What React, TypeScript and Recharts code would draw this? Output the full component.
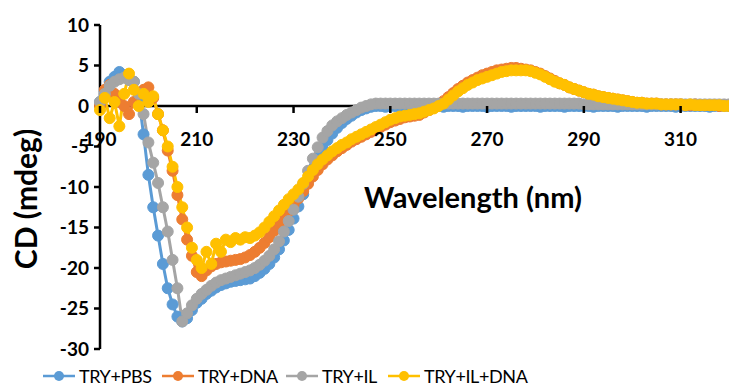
import React from "react";
import { LineChart, Line, XAxis, YAxis, ReferenceLine } from "recharts";

// wavelength in nm, one reading per nm
const wavelengths: number[] = [];
for (let w = 190; w <= 320; w++) wavelengths.push(w);

// CD (mdeg)
const tryPbs = [
  0.5, 1.8, 3.0, 3.6, 4.2, 3.8, 3.4, 3.0, 1.0, -3.5,
  -8.5, -12.5, -16.0, -19.5, -22.5, -24.5, -26.0, -26.6, -26.2, -25.2,
  -24.3, -23.8, -23.2, -22.8, -22.4, -22.1, -21.9, -21.7, -21.6, -21.5,
  -21.4, -21.3, -21.0, -20.6, -20.1, -19.5, -18.7, -17.7, -16.6, -15.3,
  -13.9, -12.4, -10.9, -9.3, -7.8, -6.4, -5.2, -4.2, -3.4, -2.7,
  -2.1, -1.6, -1.2, -0.8, -0.5, -0.3, -0.1, 0.0, 0.0, -0.1,
  0.0, 0.0, -0.1, 0.0, 0.0, 0.0, -0.1, 0.0, 0.0, 0.0,
  0.0, -0.1, 0.0, 0.0, 0.0, -0.1, 0.0, 0.0, 0.0, 0.0,
  -0.1, 0.0, 0.0, 0.0, 0.0, -0.1, 0.0, 0.0, 0.0, 0.0,
  0.0, -0.1, 0.0, 0.0, 0.0, 0.0, -0.1, 0.0, 0.0, 0.0,
  0.0, 0.0, -0.1, 0.0, 0.0, 0.0, 0.0, -0.1, 0.0, 0.0,
  0.0, 0.0, 0.0, -0.1, 0.0, 0.0, 0.0, 0.0, 0.0, -0.1,
  0.0, 0.0, 0.0, 0.0, 0.0, 0.0, -0.1, 0.0, 0.0, 0.0,
  0.0,
];

const tryDna = [
  0.0, 2.0, 2.6, 1.5, 0.5, 0.0, -1.0, 0.5, 1.5, 2.0,
  2.3, 1.0, -1.0, -3.0, -5.5, -8.0, -11.0, -14.0, -16.5, -18.5,
  -20.5, -21.0, -20.3, -19.8, -19.5, -19.3, -19.2, -19.1, -19.0, -18.9,
  -18.7, -18.4, -18.0, -17.5, -16.9, -16.2, -15.4, -14.6, -13.8, -13.0,
  -12.2, -11.4, -10.5, -9.6, -8.7, -7.9, -7.2, -6.6, -6.1, -5.6,
  -5.2, -4.8, -4.4, -4.1, -3.8, -3.5, -3.2, -2.9, -2.6, -2.3,
  -2.0, -1.8, -1.6, -1.4, -1.3, -1.2, -1.1, -0.8, -0.5, -0.2,
  0.2, 0.6, 1.1, 1.6, 2.1, 2.5, 2.9, 3.2, 3.5, 3.8,
  4.0, 4.2, 4.4, 4.5, 4.6, 4.7, 4.7, 4.6, 4.5, 4.4,
  4.2, 4.0, 3.7, 3.4, 3.1, 2.8, 2.6, 2.3, 2.1, 1.9,
  1.7, 1.5, 1.4, 1.2, 1.1, 1.0, 0.9, 0.8, 0.7, 0.6,
  0.5, 0.4, 0.4, 0.3, 0.3, 0.3, 0.2, 0.2, 0.2, 0.2,
  0.2, 0.1, 0.1, 0.2, 0.1, 0.1, 0.1, 0.1, 0.0, 0.1,
  0.1,
];

const tryIl = [
  0.5, 1.5, 2.5, 3.0, 3.3, 3.5, 3.2, 3.0, 1.5, -1.0,
  -4.5, -7.0, -9.5, -12.5, -15.5, -19.0, -22.5, -26.6, -25.6, -24.6,
  -23.8, -23.2, -22.7, -22.2, -21.8, -21.5, -21.3, -21.1, -20.9, -20.7,
  -20.5, -20.3, -20.0, -19.6, -19.1, -18.5, -17.7, -16.7, -15.5, -14.2,
  -12.8, -11.2, -9.6, -8.0, -6.5, -5.1, -3.9, -3.1, -2.4, -1.9,
  -1.5, -1.1, -0.8, -0.5, -0.2, 0.0, 0.2, 0.3, 0.3, 0.3,
  0.3, 0.3, 0.3, 0.3, 0.3, 0.3, 0.3, 0.3, 0.3, 0.3,
  0.3, 0.3, 0.3, 0.3, 0.3, 0.3, 0.3, 0.3, 0.3, 0.3,
  0.3, 0.3, 0.3, 0.3, 0.3, 0.3, 0.3, 0.3, 0.3, 0.3,
  0.3, 0.3, 0.3, 0.3, 0.3, 0.3, 0.3, 0.3, 0.3, 0.3,
  0.2, 0.2, 0.2, 0.2, 0.2, 0.2, 0.2, 0.2, 0.2, 0.2,
  0.2, 0.2, 0.2, 0.2, 0.2, 0.2, 0.2, 0.2, 0.2, 0.2,
  0.2, 0.2, 0.2, 0.2, 0.2, 0.2, 0.2, 0.2, 0.2, 0.2,
  0.2,
];

const tryIlDna = [
  -0.5, 1.0, -1.5, 0.5, -2.5, 1.5, 4.0, 2.0, 0.0, 1.5,
  0.5, 1.2, -1.0, -3.0, -5.0, -7.5, -10.0, -12.5, -15.0, -17.5,
  -19.0, -20.0, -18.0, -19.5, -17.0, -18.0, -16.5, -16.8, -16.3, -16.5,
  -16.2, -16.3, -16.0, -15.6, -15.0, -14.3, -13.6, -12.9, -12.2, -11.5,
  -10.9, -10.3, -9.5, -8.7, -7.9, -7.2, -6.6, -6.1, -5.6, -5.2,
  -4.8, -4.5, -4.1, -3.8, -3.5, -3.2, -2.9, -2.6, -2.3, -2.0,
  -1.7, -1.5, -1.3, -1.2, -1.1, -1.0, -0.9, -0.7, -0.5, -0.3,
  0.0, 0.3, 0.8, 1.3, 1.8, 2.2, 2.6, 2.9, 3.2, 3.4,
  3.6, 3.8, 4.0, 4.2, 4.3, 4.4, 4.4, 4.4, 4.4, 4.3,
  4.1, 3.9, 3.6, 3.3, 3.0, 2.8, 2.6, 2.3, 2.1, 1.9,
  1.7, 1.5, 1.4, 1.2, 1.1, 1.0, 0.9, 0.8, 0.7, 0.6,
  0.5, 0.4, 0.4, 0.3, 0.3, 0.3, 0.2, 0.2, 0.2, 0.2,
  0.2, 0.1, 0.2, 0.1, 0.1, 0.1, 0.1, 0.1, 0.1, 0.0,
  0.0,
];

const xTicks = [190, 210, 230, 250, 270, 290, 310];
const yTicks = [-30, -25, -20, -15, -10, -5, 0, 5, 10];

const series = [
  { key: "pbs", name: "TRY+PBS", color: "#5B9BD5", left: 43 },
  { key: "dna", name: "TRY+DNA", color: "#ED7D31", left: 162 },
  { key: "il", name: "TRY+IL", color: "#A5A5A5", left: 286 },
  { key: "ilDna", name: "TRY+IL+DNA", color: "#FFC000", left: 388 },
];

const data = wavelengths.map((wl, i) => ({
  wl,
  pbs: tryPbs[i],
  dna: tryDna[i],
  il: tryIl[i],
  ilDna: tryIlDna[i],
}));

const FONT = "Lato, 'Open Sans', sans-serif";
const CHART_W = 729;
const CHART_H = 388;
const MARGIN = { top: 25, right: 0, bottom: 0, left: 0 };
const X_AXIS_H = 39;
const Y_MIN = -30;
const Y_MAX = 10;
const PLOT_H = CHART_H - MARGIN.top - MARGIN.bottom - X_AXIS_H;
// distance from plot bottom up to the y = 0 line, where the x axis sits
const ZERO_UP = (PLOT_H * (0 - Y_MIN)) / (Y_MAX - Y_MIN);

const XTick = (props: any) => {
  const { x, y, payload } = props;
  const y0 = y - ZERO_UP;
  return (
    <g>
      <line x1={x} x2={x} y1={y0} y2={y0 + 7} stroke="#000" strokeWidth={2.5} />
      <text
        x={x}
        y={y0 + 40}
        textAnchor="middle"
        fontFamily={FONT}
        fontWeight={700}
        fontSize={19}
        fill="#000"
      >
        {payload.value}
      </text>
    </g>
  );
};

export default function App() {
  return (
    <div
      style={{
        position: "absolute",
        left: 0,
        top: 0,
        width: CHART_W,
        height: CHART_H,
        background: "#fff",
        fontFamily: FONT,
      }}
    >
      <LineChart width={CHART_W} height={CHART_H} data={data} margin={MARGIN}>
        <XAxis
          dataKey="wl"
          type="number"
          domain={[190, 320]}
          ticks={xTicks}
          height={X_AXIS_H}
          axisLine={false}
          tickLine={false}
          tickSize={0}
          tickMargin={0}
          tick={<XTick />}
          interval={0}
        />
        <YAxis
          type="number"
          domain={[Y_MIN, Y_MAX]}
          ticks={yTicks}
          width={100}
          interval={0}
          axisLine={{ stroke: "#000", strokeWidth: 2.5 }}
          tickLine={{ stroke: "#000", strokeWidth: 2.5 }}
          tickSize={6}
          tickMargin={5}
          tick={{ fill: "#000", fontFamily: FONT, fontWeight: 700, fontSize: 19 }}
        />
        <ReferenceLine y={0} stroke="#000" strokeWidth={2.5} />
        {series.map((s) => (
          <Line
            key={s.key}
            dataKey={s.key}
            name={s.name}
            type="linear"
            stroke={s.color}
            strokeWidth={3}
            dot={{ r: 5.5, fill: s.color, stroke: s.color, strokeWidth: 1 }}
            isAnimationActive={false}
          />
        ))}
      </LineChart>

      <div
        style={{
          position: "absolute",
          left: 0,
          top: 20,
          width: 50,
          height: 358,
          display: "flex",
          alignItems: "center",
          justifyContent: "center",
        }}
      >
        <div
          style={{
            transform: "rotate(-90deg)",
            whiteSpace: "nowrap",
            fontWeight: 700,
            fontSize: 30,
            color: "#000",
          }}
        >
          CD (mdeg)
        </div>
      </div>

      <div
        style={{
          position: "absolute",
          left: 364,
          top: 179,
          whiteSpace: "nowrap",
          fontWeight: 700,
          fontSize: 29,
          color: "#000",
        }}
      >
        Wavelength (nm)
      </div>

      {series.map((s) => (
        <div
          key={s.key}
          style={{
            position: "absolute",
            left: s.left,
            top: 365,
            display: "flex",
            alignItems: "center",
            fontSize: 18,
            letterSpacing: -0.4,
            color: "#000",
            whiteSpace: "nowrap",
          }}
        >
          <svg width={32} height={12}>
            <line x1={0} x2={32} y1={6} y2={6} stroke={s.color} strokeWidth={2.5} />
            <circle cx={16} cy={6} r={5} fill={s.color} />
          </svg>
          <span style={{ marginLeft: 4 }}>{s.name}</span>
        </div>
      ))}
    </div>
  );
}
